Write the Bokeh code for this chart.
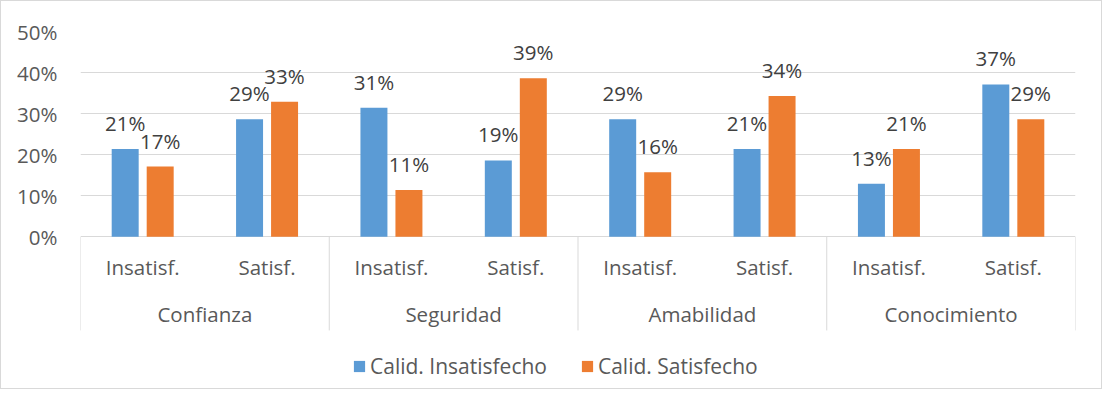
from bokeh.plotting import figure
from bokeh.models import ColumnDataSource, FactorRange, FixedTicker, NumeralTickFormatter
from bokeh.transform import dodge
from bokeh.core.properties import value
from bokeh.embed import file_html
from bokeh.resources import INLINE

# ---- data ----
groups = ["Confianza", "Seguridad", "Amabilidad", "Conocimiento"]
subgroups = ["Insatisf.", "Satisf."]
series_names = ["Calid. Insatisfecho", "Calid. Satisfecho"]
insatisfecho = [0.214, 0.286, 0.314, 0.186, 0.286, 0.214, 0.129, 0.371]
satisfecho = [0.171, 0.329, 0.114, 0.386, 0.157, 0.343, 0.214, 0.286]
y_ticks = [0, 0.1, 0.2, 0.3, 0.4, 0.5]

BLUE = "#5B9BD5"
ORANGE = "#ED7D31"
GRID = "#D9D9D9"
TXT = "#595959"
LBL = "#404040"
FONT = value("Open Sans")
FS = "20.5px"

factors = [(g, s) for g in groups for s in subgroups]
src = ColumnDataSource(dict(
    x=factors,
    ins=insatisfecho,
    sat=satisfecho,
    ins_lbl=[f"{round(v * 100)}%" for v in insatisfecho],
    sat_lbl=[f"{round(v * 100)}%" for v in satisfecho],
))

p = figure(
    width=1102, height=389,
    x_range=FactorRange(*factors, range_padding=0, group_padding=0, factor_padding=0),
    y_range=(-0.3743, 0.5),
    output_backend="svg", toolbar_location=None, tools="",
    x_axis_location=None,
    min_border_left=79, min_border_top=30, min_border_right=28, min_border_bottom=0,
)
p.styles = {"border": f"1px solid {GRID}"}
p.outline_line_color = None
p.background_fill_color = "white"
p.border_fill_color = "white"

# y axis
p.yaxis.ticker = FixedTicker(ticks=y_ticks)
p.yaxis.formatter = NumeralTickFormatter(format="0%")
p.yaxis.axis_line_color = None
p.yaxis.major_tick_line_color = None
p.yaxis.minor_tick_line_color = None
p.yaxis.major_tick_out = 0
p.yaxis.major_label_standoff = 23
p.yaxis.major_label_text_font = "Open Sans"
p.yaxis.major_label_text_font_size = FS
p.yaxis.major_label_text_color = TXT
p.ygrid.ticker = FixedTicker(ticks=y_ticks)
p.ygrid.grid_line_color = GRID
p.ygrid.grid_line_width = 1
p.xgrid.grid_line_color = None

# bars
off = 0.1407
bw = 0.217
p.vbar(x=dodge("x", -off, range=p.x_range), top="ins", width=bw, source=src,
       fill_color=BLUE, line_color=None, legend_label=series_names[0])
p.vbar(x=dodge("x", off, range=p.x_range), top="sat", width=bw, source=src,
       fill_color=ORANGE, line_color=None, legend_label=series_names[1])

# data labels
p.text(x=dodge("x", -off, range=p.x_range), y="ins", text="ins_lbl", source=src,
       text_align="center", text_baseline="alphabetic", y_offset=-26,
       text_font=FONT, text_font_size=FS, text_color=LBL)
p.text(x=dodge("x", off, range=p.x_range), y="sat", text="sat_lbl", source=src,
       text_align="center", text_baseline="alphabetic", y_offset=-26,
       text_font=FONT, text_font_size=FS, text_color=LBL)

# category axis drawn in the frame below zero
sub_y = -0.074
grp_y = -0.1885
sep_bottom = -0.228
p.text(x=factors, y=[sub_y] * len(factors), text=[s for _, s in factors],
       text_align="center", text_baseline="alphabetic",
       text_font=FONT, text_font_size=FS, text_color=TXT)
grp_src = ColumnDataSource(dict(
    first=[(g, subgroups[0]) for g in groups],
    name=groups,
    y=[grp_y] * len(groups),
))
p.text(x=dodge("first", 0.5, range=p.x_range), y="y", text="name", source=grp_src,
       text_align="center", text_baseline="alphabetic",
       text_font=FONT, text_font_size=FS, text_color=TXT)
sep_x = [(g, subgroups[0]) for g in groups]
sep_src = ColumnDataSource(dict(x=sep_x, y0=[0] * len(sep_x), y1=[sep_bottom] * len(sep_x)))
p.segment(x0=dodge("x", -0.5, range=p.x_range), y0="y0",
          x1=dodge("x", -0.5, range=p.x_range), y1="y1", source=sep_src,
          line_color=GRID, line_width=1)
end_src = ColumnDataSource(dict(x=[factors[-1]], y0=[0], y1=[sep_bottom]))
p.segment(x0=dodge("x", 0.5, range=p.x_range), y0="y0",
          x1=dodge("x", 0.5, range=p.x_range), y1="y1", source=end_src,
          line_color=GRID, line_width=1)

# legend
lg = p.legend[0]
lg.orientation = "horizontal"
lg.location = (272, 10)
lg.padding = 0
lg.margin = 0
lg.spacing = 33
lg.border_line_color = None
lg.background_fill_alpha = 0
lg.glyph_width = 14
lg.glyph_height = 14
lg.label_standoff = 4
lg.label_text_font = "Open Sans"
lg.label_text_font_size = "21px"
lg.label_text_color = TXT

open("out.html", "w").write(file_html(p, INLINE))
